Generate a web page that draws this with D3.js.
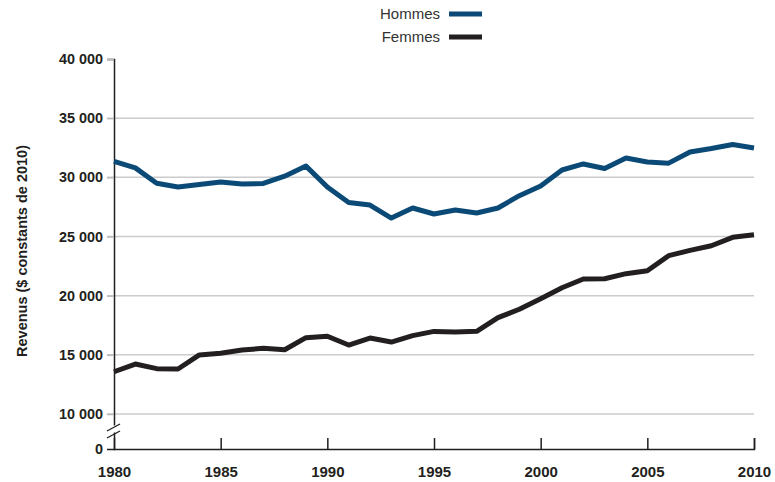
<!DOCTYPE html>
<html><head><meta charset="utf-8">
<script src="https://cdn.jsdelivr.net/npm/d3@7"></script>
<style>body{margin:0;background:#fff}svg{display:block;font-family:"Liberation Sans",Arial,sans-serif}</style>
</head><body><svg id="c" width="775" height="482"></svg>
<script>
const years = d3.range(1980, 2011);
const hommes = [31350,30800,29500,29180,29400,29600,29430,29480,30100,30950,29180,27870,27660,26560,27410,26900,27240,26990,27410,28450,29270,30620,31130,30750,31630,31300,31200,32140,32430,32770,32480];
const femmes = [13570,14220,13830,13800,14990,15130,15410,15550,15430,16450,16570,15830,16420,16080,16620,16980,16930,16990,18140,18850,19740,20670,21410,21430,21860,22110,23380,23830,24220,24930,25150];
const yTicks = [0,10000,15000,20000,25000,30000,35000,40000];
const gridVals = [10000,15000,20000,25000,30000,35000];
const xTicks = [1980,1985,1990,1995,2000,2005,2010];
const seriesNames = ["Hommes","Femmes"];
const colors = ["#0b4a76","#231f20"];

const svg = d3.select("#c");
const x = d3.scaleLinear().domain([1980,2010]).range([114,754]);
const y = d3.scaleLinear().domain([0,10000,40000]).range([449,414,59]);
const loc = d3.formatLocale({decimal:",",thousands:"\u00a0",grouping:[3],currency:["","$"]});
const fmt = loc.format(",d");

// gridlines
svg.append("g").selectAll("line").data(gridVals).join("line")
  .attr("x1",107).attr("x2",754).attr("y1",d=>y(d)).attr("y2",d=>y(d))
  .attr("stroke","#cccccc").attr("stroke-width",1.5);

// y axis
const ya = svg.append("g").attr("transform","translate(114,0)")
  .call(d3.axisLeft(y).tickValues(yTicks).tickFormat(fmt).tickSize(7).tickPadding(4));
ya.select(".domain").attr("stroke","#231f20").attr("stroke-width",1.5);
ya.selectAll(".tick line").attr("stroke","#bbbbbb").attr("stroke-width",1.5);
ya.selectAll(".tick").filter(d=>d===0).select("line").remove();
ya.selectAll("text").attr("font-size",14.4).attr("font-weight","bold").attr("fill","#231f20")
  .attr("font-family","'Liberation Sans',Arial,sans-serif");

// x axis
const xa = svg.append("g").attr("transform","translate(0,449)")
  .call(d3.axisBottom(x).tickValues(xTicks).tickFormat(d3.format("d")).tickSize(-11).tickPadding(17));
xa.select(".domain").attr("stroke","#231f20").attr("stroke-width",1.5);
xa.selectAll(".tick line").attr("stroke","#231f20").attr("stroke-width",1.5);
xa.selectAll(".tick").filter(d=>d===1980).select("line").remove();
xa.selectAll("text").attr("font-size",15).attr("font-weight","bold").attr("fill","#231f20")
  .attr("font-family","'Liberation Sans',Arial,sans-serif");

// axis break
svg.append("rect").attr("x",108).attr("y",425.5).attr("width",12).attr("height",7).attr("fill","#fff");
[0,7].forEach(o=>{
  svg.append("line").attr("x1",107).attr("y1",431+o).attr("x2",120).attr("y2",424+o)
    .attr("stroke","#231f20").attr("stroke-width",1.3);
});

// lines
const line = d3.line().x((d,i)=>x(years[i])).y(d=>y(d));
[hommes,femmes].forEach((s,i)=>{
  svg.append("path").datum(s).attr("d",line).attr("fill","none")
    .attr("stroke",colors[i]).attr("stroke-width",5).attr("stroke-linejoin","round");
});

// y title
svg.append("text").attr("transform","translate(27,251) rotate(-90)").attr("text-anchor","middle")
  .attr("font-size",14.5).attr("font-weight","bold").attr("fill","#231f20")
  .text("Revenus ($ constants de 2010)");

// legend
seriesNames.forEach((n,i)=>{
  const ly = 14 + i*23;
  svg.append("text").attr("x",440).attr("y",ly+5).attr("text-anchor","end")
    .attr("font-size",15).attr("fill","#333").text(n);
  svg.append("line").attr("x1",449).attr("x2",482).attr("y1",ly).attr("y2",ly)
    .attr("stroke",colors[i]).attr("stroke-width",5);
});
</script></body></html>
